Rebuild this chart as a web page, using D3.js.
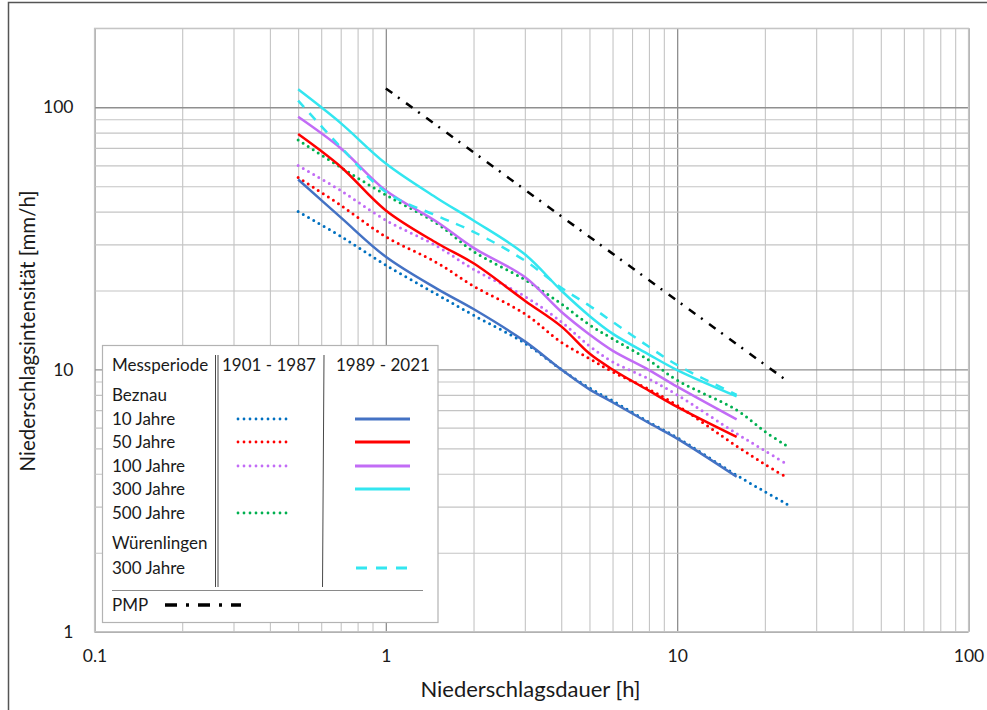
<!DOCTYPE html>
<html>
<head>
<meta charset="utf-8">
<script src="https://cdn.jsdelivr.net/npm/d3@7"></script>
<style>
  body { margin: 0; background: #fff; }
  svg text { font-family: "Lato", "Open Sans", sans-serif; fill: #1a1a1a; }
</style>
</head>
<body>
<svg id="chart"></svg>
<script>
const durations = [0.5, 0.7, 1, 1.5, 2, 3, 4, 5, 6, 8, 10, 16, 20, 24];

// Beznau 1901 - 1987 (dotted)
const old10 = [40, 32.2, 25.0, 19.3, 16.1, 12.6, 10.0, 8.5, 7.6, 6.3, 5.5, 3.95, 3.42, 3.05];
const old50 = [54, 42.3, 32.1, 25.5, 20.8, 16.3, 12.7, 11.0, 9.8, 8.4, 7.3, 5.1, 4.35, 3.85];
const old100 = [60, 48.1, 37.1, 29.5, 24.1, 19.0, 15.2, 12.3, 10.7, 9.2, 8.0, 5.7, 4.9, 4.33];
const old500 = [75, 59, 46.3, 36, 28.2, 22.0, 17.8, 14.8, 13.1, 10.85, 9.1, 7.0, 5.8, 5.08];

// Beznau 1989 - 2021 (solid), ends at 16 h
const new10 = [53, 38, 26.9, 20.3, 17.0, 12.8, 10.0, 8.4, 7.5, 6.25, 5.45, 3.9, null, null];
const new50 = [79, 59.3, 40.4, 30.3, 25.4, 18.3, 14.6, 11.5, 10.0, 8.3, 7.2, 5.53, null, null];
const new100 = [92, 69.8, 48.1, 36.5, 29.1, 22.5, 16.6, 13.6, 11.8, 9.95, 8.6, 6.45, null, null];
const new300 = [117, 87, 61, 45, 37, 27.5, 20, 16.0, 13.7, 11.4, 9.95, 7.9, null, null];

// Würenlingen 300 Jahre (dashed)
const wuer300 = [106, 70.5, 47.5, 38.5, 33.5, 26, 20.5, 17.5, 15.2, 12.2, 10.4, 8.0, null, null];

// PMP
const pmpDur = [1, 24];
const pmpVal = [118, 9];

const xTicks = [0.1, 1, 10, 100];
const yTicks = [1, 10, 100];

const colors = {
  blueOld: "#0070C0", blue: "#4472C4", red: "#FF0000",
  purple: "#C26CF6", cyan: "#33E6F0", green: "#00B050", pmp: "#000000"
};

class IdfChart {
  constructor(_config) {
    this.config = {
      parentElement: _config.parentElement,
      containerWidth: 987,
      containerHeight: 710,
      margin: { top: 28.3, right: 18.5, bottom: 78.3, left: 94.5 }
    };
    this.initVis();
  }

  initVis() {
    let vis = this;
    vis.innerWidth = vis.config.containerWidth - vis.config.margin.left - vis.config.margin.right;
    vis.innerHeight = vis.config.containerHeight - vis.config.margin.top - vis.config.margin.bottom;

    vis.svg = d3.select(vis.config.parentElement)
        .attr("width", vis.config.containerWidth)
        .attr("height", vis.config.containerHeight);

    // outer frame (cut by the page on the right and bottom)
    vis.svg.append("rect")
        .attr("x", 8.5).attr("y", 2.5)
        .attr("width", 1100).attr("height", 900)
        .attr("fill", "none")
        .attr("stroke", "#555")
        .attr("stroke-width", 1.5);

    vis.chart = vis.svg.append("g")
        .attr("transform", `translate(${vis.config.margin.left},${vis.config.margin.top})`);

    vis.xScale = d3.scaleLog().domain([0.1, 100]).range([0, vis.innerWidth]);
    vis.yScale = d3.scaleLog().domain([1, 200]).range([vis.innerHeight, 0]);

    vis.gridX = vis.chart.append("g").attr("transform", `translate(0,${vis.innerHeight})`);
    vis.gridY = vis.chart.append("g");
    vis.xAxis = vis.chart.append("g").attr("transform", `translate(0,${vis.innerHeight})`);
    vis.yAxis = vis.chart.append("g");
    vis.lines = vis.chart.append("g");
    vis.legend = vis.svg.append("g");

    // axis titles
    vis.svg.append("text")
        .attr("x", vis.config.margin.left + 436)
        .attr("y", 697)
        .attr("text-anchor", "middle")
        .style("font-size", "22px")
        .text("Niederschlagsdauer [h]");
    vis.svg.append("text")
        .attr("transform", "translate(35,331) rotate(-90)")
        .attr("text-anchor", "middle")
        .style("font-size", "20.5px")
        .text("Niederschlagsintensität [mm/h]");
  }

  updateVis(series) {
    let vis = this;
    vis.series = series;

    const isMajor = d => Math.abs(Math.log10(d) - Math.round(Math.log10(d))) < 1e-9;

    // grid lines
    vis.gridX.call(d3.axisBottom(vis.xScale).ticks(20).tickSize(-vis.innerHeight).tickFormat(""));
    vis.gridY.call(d3.axisLeft(vis.yScale).ticks(20).tickSize(-vis.innerWidth).tickFormat(""));
    [vis.gridX, vis.gridY].forEach(g => {
      g.select(".domain").remove();
      g.selectAll("line")
          .attr("stroke", d => isMajor(d) ? "#8f8f8f" : "#c4c4c4")
          .attr("stroke-width", d => isMajor(d) ? 1.3 : 1.1);
    });
    vis.chart.append("rect")
        .attr("width", vis.innerWidth).attr("height", vis.innerHeight)
        .attr("fill", "none").attr("stroke", "#c4c4c4").attr("stroke-width", 1.2);

    vis.xAxis.call(d3.axisBottom(vis.xScale).tickValues(xTicks)
        .tickFormat(d3.format("~g")).tickSize(0).tickPadding(18));
    vis.yAxis.call(d3.axisLeft(vis.yScale).tickValues(yTicks)
        .tickFormat(d3.format("~g")).tickSize(0).tickPadding(21));
    [vis.xAxis, vis.yAxis].forEach(g => {
      g.select(".domain").remove();
      g.selectAll("text").style("font-size", "17.5px").attr("fill", "#1a1a1a")
          .style("font-family", "Lato, sans-serif");
    });

    vis.renderVis();
  }

  renderVis() {
    let vis = this;
    // smoothed like the spreadsheet's scatter lines
    const line = d3.line()
        .x(d => vis.xScale(d[0]))
        .y(d => vis.yScale(d[1]))
        .curve(d3.curveCatmullRom.alpha(0.5));

    vis.lines.selectAll("path")
        .data(vis.series)
        .join("path")
        .attr("d", d => line(d.x.map((v, i) => [v, d.y[i]]).filter(p => p[1] != null)))
        .attr("fill", "none")
        .attr("stroke", d => d.color)
        .attr("stroke-width", d => d.width)
        .attr("stroke-linecap", d => d.dash === DOT ? "round" : "butt")
        .attr("stroke-dasharray", d => d.dash);

    vis.renderLegend();
  }

  renderLegend() {
    let vis = this;
    const lg = vis.legend;
    lg.append("rect")
        .attr("x", 102.5).attr("y", 345.5)
        .attr("width", 335.5).attr("height", 277)
        .attr("fill", "#fff").attr("stroke", "#b3b3b3").attr("stroke-width", 1.2);

    // column separators
    lg.append("line").attr("x1", 215.5).attr("x2", 215.5).attr("y1", 355).attr("y2", 587)
        .attr("stroke", "#333").attr("stroke-width", 0.9);
    lg.append("line").attr("x1", 218).attr("x2", 218).attr("y1", 355).attr("y2", 587)
        .attr("stroke", "#333").attr("stroke-width", 0.9);
    lg.append("line").attr("x1", 324).attr("x2", 322.5).attr("y1", 355).attr("y2", 587)
        .attr("stroke", "#333").attr("stroke-width", 0.9);
    lg.append("line").attr("x1", 112).attr("x2", 423).attr("y1", 590.5).attr("y2", 590.5)
        .attr("stroke", "#8a8a8a").attr("stroke-width", 1.2);

    const rows = [
      { label: "Messperiode", y: 365 },
      { label: "Beznau", y: 395 },
      { label: "10 Jahre", y: 419 },
      { label: "50 Jahre", y: 442 },
      { label: "100 Jahre", y: 466 },
      { label: "300 Jahre", y: 489 },
      { label: "500 Jahre", y: 513 },
      { label: "Würenlingen", y: 543 },
      { label: "300 Jahre", y: 568 },
      { label: "PMP", y: 605 }
    ];
    lg.selectAll("text.row")
        .data(rows)
        .join("text")
        .attr("class", "row")
        .attr("x", 112)
        .attr("y", d => d.y)
        .attr("dy", "0.35em")
        .style("font-size", "17px")
        .text(d => d.label);
    lg.append("text").attr("x", 222).attr("y", 365).attr("dy", "0.35em")
        .style("font-size", "17px").text("1901 - 1987");
    lg.append("text").attr("x", 336).attr("y", 365).attr("dy", "0.35em")
        .style("font-size", "17px").text("1989 - 2021");

    // samples
    lg.selectAll("line.sample")
        .data(vis.series)
        .join("line")
        .attr("class", "sample")
        .attr("x1", d => d.legend.x0)
        .attr("x2", d => d.legend.x1)
        .attr("y1", d => d.legend.y)
        .attr("y2", d => d.legend.y)
        .attr("stroke", d => d.color)
        .attr("stroke-width", d => d.legend.w)
        .attr("stroke-linecap", d => d.dash === DOT ? "round" : "butt")
        .attr("stroke-dasharray", d => d.legend.dash);
  }
}

const DOT = "0 6";
const oldCol = { x0: 238, x1: 292 };
const newCol = { x0: 355, x1: 410 };
const series = [
  { name: "10 Jahre 1901-1987", x: durations, y: old10, color: colors.blueOld, width: 3, dash: DOT,
    legend: { ...oldCol, y: 419, w: 2.8, dash: DOT } },
  { name: "50 Jahre 1901-1987", x: durations, y: old50, color: colors.red, width: 3, dash: DOT,
    legend: { ...oldCol, y: 442, w: 2.8, dash: DOT } },
  { name: "100 Jahre 1901-1987", x: durations, y: old100, color: colors.purple, width: 3, dash: DOT,
    legend: { ...oldCol, y: 466, w: 2.8, dash: DOT } },
  { name: "500 Jahre 1901-1987", x: durations, y: old500, color: colors.green, width: 3, dash: DOT,
    legend: { ...oldCol, y: 513, w: 2.8, dash: DOT } },
  { name: "10 Jahre 1989-2021", x: durations, y: new10, color: colors.blue, width: 2.5, dash: null,
    legend: { ...newCol, y: 419, w: 3, dash: null } },
  { name: "50 Jahre 1989-2021", x: durations, y: new50, color: colors.red, width: 2.5, dash: null,
    legend: { ...newCol, y: 442, w: 3, dash: null } },
  { name: "100 Jahre 1989-2021", x: durations, y: new100, color: colors.purple, width: 2.5, dash: null,
    legend: { ...newCol, y: 466, w: 3, dash: null } },
  { name: "300 Jahre 1989-2021", x: durations, y: new300, color: colors.cyan, width: 2.5, dash: null,
    legend: { ...newCol, y: 489, w: 3, dash: null } },
  { name: "Würenlingen 300 Jahre", x: durations, y: wuer300, color: colors.cyan, width: 2.5, dash: "9 8",
    legend: { x0: 356, x1: 408, y: 568, w: 3, dash: "11 9" } },
  { name: "PMP", x: pmpDur, y: pmpVal, color: colors.pmp, width: 2.5, dash: "8 7 2 8",
    legend: { x0: 165, x1: 241, y: 605, w: 3.5, dash: "12 9 3 9" } }
];

const chart = new IdfChart({ parentElement: "#chart" });
chart.updateVis(series);
</script>
</body>
</html>
